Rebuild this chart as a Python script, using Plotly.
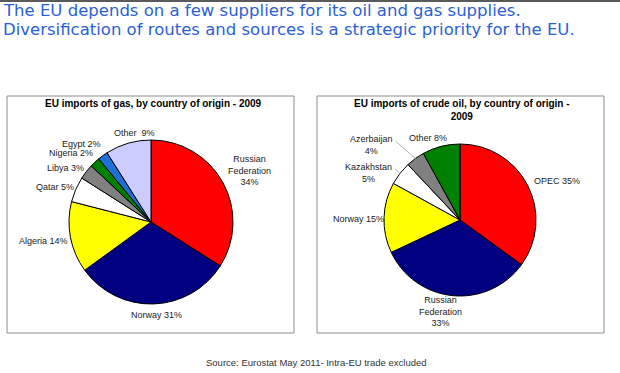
import math
import plotly.graph_objects as go

W, H = 620, 373

# ---- data ----
gas_labels = ["Russian<br>Federation", "Norway", "Algeria", "Qatar", "Libya", "Nigeria", "Egypt", "Other"]
gas_values = [34, 31, 14, 5, 3, 2, 2, 9]
gas_colors = ["#ff0000", "#000080", "#ffff00", "#ffffff", "#808080", "#008000", "#1f6fd6", "#ccccff"]

oil_labels = ["OPEC", "Russian<br>Federation", "Norway", "Kazakhstan", "Azerbaijan", "Other"]
oil_values = [35, 33, 15, 5, 4, 8]
oil_colors = ["#ff0000", "#000080", "#ffff00", "#ffffff", "#808080", "#008000"]

heading = ["The EU depends on a few suppliers for its oil and gas supplies.",
           "Diversification of routes and sources is a strategic priority for the EU."]
gas_title = "EU imports of gas, by country of origin - 2009"
oil_title = "EU imports of crude oil, by country of origin -<br>2009"
source = "Source: Eurostat May 2011- Intra-EU trade excluded"


def px(x):
    return x / W


def py(y):
    return 1 - y / H


fig = go.Figure()

# pie geometry (pixels)
gas_c, gas_r = (151, 222), 82
oil_c, oil_r = (460, 220), 76

for vals, cols, (cx, cy), r, names in [
    (gas_values, gas_colors, gas_c, gas_r, gas_labels),
    (oil_values, oil_colors, oil_c, oil_r, oil_labels),
]:
    fig.add_trace(go.Pie(
        values=vals, labels=names, sort=False, direction="clockwise", rotation=0,
        marker=dict(colors=cols, line=dict(color="#000000", width=1)),
        textinfo="none", hoverinfo="skip", showlegend=False,
        domain=dict(x=[px(cx - r), px(cx + r)], y=[py(cy + r), py(cy - r)]),
    ))

LABFONT = dict(family="Liberation Sans, Arial, sans-serif", size=9, color="#222222")

annotations = []
shapes = []

# label formats and tweaks (pixel offsets)
gas_fmt = {"Russian<br>Federation": "{n}<br>{v}%", "Other": "{n}  {v}%"}
gas_off = {"Russian<br>Federation": (-4, -8), "Norway": (3, -4), "Algeria": (8, 2),
           "Qatar": (8, 1), "Libya": (6, 1), "Nigeria": (6, -3), "Egypt": (5, -5),
           "Other": (9, 5)}
oil_fmt = {"Russian<br>Federation": "{n}<br>{v}%", "Kazakhstan": "{n}<br>{v}%",
           "Azerbaijan": "{n}<br>{v}%"}
oil_off = {"OPEC": (-2, -1), "Russian<br>Federation": (-12, -10), "Norway": (10, 2),
           "Kazakhstan": (0, 4), "Azerbaijan": (-16, -7), "Other": (-11, 6)}
oil_lead = {"Kazakhstan", "Azerbaijan"}


def add_labels(names, vals, c, r, fmt, off, lead=()):
    cx, cy = c
    total = sum(vals)
    cum = 0
    for n, v in zip(names, vals):
        mid = (cum + v / 2) / total * 2 * math.pi
        cum += v
        s, co = math.sin(mid), math.cos(mid)
        k = 1.1
        x = cx + r * k * s
        y = cy - r * k * co
        if s > 0.3:
            xa = "left"
        elif s < -0.3:
            xa = "right"
        else:
            xa = "center"
        ya = "middle"
        if co < -0.8:
            ya = "top"
        elif co > 0.9:
            ya = "bottom"
        dx, dy = off.get(n, (0, 0))
        x += dx
        y += dy
        text = fmt.get(n, "{n} {v}%").format(n=n, v=v)
        annotations.append(dict(x=px(x), y=py(y), xref="paper", yref="paper", text=text,
                                showarrow=False, xanchor=xa, yanchor=ya, align="center",
                                font=LABFONT))
        if n in lead:
            ex, ey = cx + r * s, cy - r * co
            shapes.append(dict(type="line", xref="paper", yref="paper",
                               x0=px(x + 1), y0=py(y - 4), x1=px(ex), y1=py(ey),
                               line=dict(color="#b0b0b0", width=1)))


add_labels(gas_labels, gas_values, gas_c, gas_r, gas_fmt, gas_off)
add_labels(oil_labels, oil_values, oil_c, oil_r, oil_fmt, oil_off, oil_lead)

# boxes
for x0, x1 in [(7, 294), (317, 604)]:
    shapes.append(dict(type="rect", xref="paper", yref="paper", x0=px(x0), x1=px(x1),
                       y0=py(333), y1=py(96), line=dict(color="#8c8c8c", width=1),
                       fillcolor="rgba(0,0,0,0)", layer="below"))
# top gray bar
shapes.append(dict(type="rect", xref="paper", yref="paper", x0=0, x1=1, y0=py(2), y1=1,
                   line=dict(width=0), fillcolor="#5a5a5a"))

TFONT = dict(family="Liberation Sans, Arial, sans-serif", size=10, color="#000000")
annotations.append(dict(x=px(153), y=py(104), text="<b>" + gas_title + "</b>", showarrow=False,
                        xref="paper", yref="paper", xanchor="center", yanchor="middle", font=TFONT))
annotations.append(dict(x=px(462), y=py(110), text="<b>" + oil_title.replace("<br>", "</b><br><b>") + "</b>",
                        showarrow=False, xref="paper", yref="paper", xanchor="center",
                        yanchor="middle", align="center", font=TFONT))

HFONT = dict(family="Comic Sans MS, DejaVu Sans, sans-serif", size=16.5, color="#2a5fd6")
for i, yy in enumerate([10, 29]):
    annotations.append(dict(x=px(1), y=py(yy), text=heading[i], showarrow=False, xref="paper",
                            yref="paper", xanchor="left", yanchor="middle", font=HFONT))

annotations.append(dict(x=px(317), y=py(362), text=source, showarrow=False, xref="paper",
                        yref="paper", xanchor="center", yanchor="middle",
                        font=dict(family="Liberation Sans, Arial, sans-serif", size=9.5, color="#333333")))

fig.update_layout(width=W, height=H, margin=dict(l=0, r=0, t=0, b=0),
                  paper_bgcolor="#ffffff", plot_bgcolor="#ffffff",
                  annotations=annotations, shapes=shapes)

fig.write_html("out.html", config={"displayModeBar": False},
               post_script="document.body.style.margin='0';document.body.style.overflow='hidden';")
